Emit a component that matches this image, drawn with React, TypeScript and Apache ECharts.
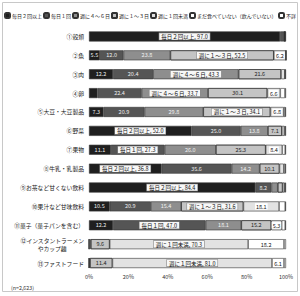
import React, { useEffect, useRef } from "react";
import * as echarts from "echarts";

const categories = [
  "①穀類",
  "②魚",
  "③肉",
  "④卵",
  "⑤大豆・大豆製品",
  "⑥野菜",
  "⑦果物",
  "⑧牛乳・乳製品",
  "⑨お茶など甘くない飲料",
  "⑩果汁など甘味飲料",
  "⑪菓子（菓子パンを含む）",
  "⑫インスタントラーメン\nやカップ麺",
  "⑬ファストフード",
];

const seriesNames = [
  "毎日２回以上",
  "毎日１回",
  "週に４～６日",
  "週に１～３日",
  "週に１回未満",
  "まだ食べていない（飲んでいない）",
  "不詳",
];

const twiceDaily = [97.0, 5.5, 12.2, 4.3, 7.3, 52.0, 11.1, 36.8, 84.4, 10.5, 12.2, 0.0, 0.0];
const onceDaily = [2.1, 12.0, 20.4, 22.4, 20.9, 25.0, 27.3, 35.6, 8.2, 20.9, 47.0, 0.1, 0.1];
const days4to6 = [0.2, 23.8, 43.3, 33.7, 29.8, 13.8, 26.0, 14.2, 3.2, 15.4, 18.1, 0.8, 0.4];
const days1to3 = [0.1, 52.5, 21.6, 30.1, 34.1, 7.1, 25.3, 10.1, 2.5, 31.6, 15.2, 9.6, 11.4];
const lessWeekly = [0.1, 6.2, 1.9, 6.6, 6.8, 1.3, 8.4, 2.2, 1.0, 18.1, 5.3, 70.3, 81.0];
const notYet = [0.1, 0.0, 0.2, 2.4, 0.7, 0.4, 1.5, 0.7, 0.3, 3.1, 1.8, 18.2, 6.1];
const unknown = [0.4, 0.0, 0.4, 0.5, 0.4, 0.4, 0.4, 0.4, 0.4, 0.4, 0.4, 1.0, 1.0];

const xTicks = ["0%", "20%", "40%", "60%", "80%", "100%"];

const allValues = [twiceDaily, onceDaily, days4to6, days1to3, lessWeekly, notYet, unknown];
const colors = ["#1f1f1f", "#555555", "#8e8e8e", "#c4c4c4", "#e2e2e2", "#ffffff", "#ffffff"];
const labelColors = ["#eeeeee", "#eeeeee", "#f2f2f2", "#222222", "#222222", "#222222", "#222222"];

const FONT = "'Noto Sans CJK JP', 'Noto Sans', sans-serif";

export default function App() {
  const ref = useRef<HTMLDivElement>(null);

  useEffect(() => {
    document.body.style.margin = "0";
    if (!ref.current) return;
    const chart = echarts.init(ref.current, null, { renderer: "svg" });

    const rowMax = categories.map((_, i) => {
      let best = 0;
      allValues.forEach((arr, s) => {
        if (arr[i] > allValues[best][i]) best = s;
      });
      return best;
    });

    const series = seriesNames.map((name, s) => ({
      name,
      type: "bar",
      stack: "total",
      barWidth: 10,
      itemStyle: {
        color: colors[s],
        borderColor: "#333333",
        borderWidth: 0.6,
        ...(s === 3
          ? {
              decal: {
                symbol: "circle",
                symbolSize: 0.7,
                dashArrayX: [1, 1],
                dashArrayY: [1, 1],
                color: "rgba(90,90,90,0.55)",
                rotation: 0,
              },
            }
          : {}),
      },
      label: {
        show: true,
        position: "inside",
        fontSize: 5.5,
        fontFamily: FONT,
        color: labelColors[s],
        formatter: (p: any) => {
          const v = Number(p.value);
          if (v < 5) return "";
          if (rowMax[p.dataIndex] === s) return `{box|${name}, ${v.toFixed(1)}}`;
          if (s === 4 || s === 5) return `{wb|${v.toFixed(1)}}`;
          return v.toFixed(1);
        },
        rich: {
          box: {
            backgroundColor: "#f7f7f7",
            borderColor: "#8a8a8a",
            borderWidth: 0.6,
            padding: [1, 2, 0, 2],
            color: "#111111",
            fontSize: 5.5,
            fontFamily: FONT,
          },
          wb: {
            backgroundColor: "#ffffff",
            padding: [1, 1, 0, 1],
            color: "#111111",
            fontSize: 5.5,
            fontFamily: FONT,
          },
        },
      },
      emphasis: { disabled: true },
      data: allValues[s],
    }));

    chart.setOption({
      animation: false,
      textStyle: { fontFamily: FONT },
      legend: {
        top: 12,
        left: 4,
        width: 600,
        itemWidth: 5,
        itemHeight: 5,
        itemGap: 1,
        padding: 0,
        textStyle: { fontSize: 5, color: "#222", fontFamily: FONT, padding: [0, 0, 0, -3] },
        data: seriesNames,
      },
      grid: { left: 89, right: 14, top: 27, bottom: 23.5, containLabel: false },
      xAxis: {
        type: "value",
        min: 0,
        max: 100,
        interval: 20,
        axisLine: { show: false },
        axisTick: { show: false },
        splitLine: { show: false },
        axisLabel: {
          fontSize: 5.5,
          color: "#333",
          margin: 2,
          fontFamily: FONT,
          formatter: (v: number) => xTicks[Math.round(v / 20)],
        },
      },
      yAxis: {
        type: "category",
        data: categories,
        inverse: true,
        axisLine: { show: false },
        axisTick: { show: false },
        axisLabel: {
          fontSize: 5.8,
          color: "#222",
          margin: 5,
          fontFamily: FONT,
          formatter: (v: string) =>
            v.includes("\n")
              ? v
                  .split("\n")
                  .map((t, i) => (i === 0 ? `{a|${t}}` : `{b|${t}}`))
                  .join("\n")
              : v,
          rich: {
            a: { fontSize: 5.8, color: "#222", fontFamily: FONT, align: "right", lineHeight: 8 },
            b: { fontSize: 5.8, color: "#222", fontFamily: FONT, align: "center", lineHeight: 8 },
          },
        },
      },
      graphic: [
        {
          type: "rect",
          shape: { x: 2.5, y: 2.5, width: 295, height: 289 },
          style: { fill: "none", stroke: "#c8c8c8", lineWidth: 1 },
          silent: true,
        },
        {
          type: "text",
          left: 11,
          top: 285,
          style: { text: "(n=2,623)", fontSize: 5.3, fill: "#333", fontFamily: FONT },
        },
      ],
      series,
    });

    return () => chart.dispose();
  }, []);

  return <div ref={ref} style={{ width: 300, height: 296 }} />;
}
